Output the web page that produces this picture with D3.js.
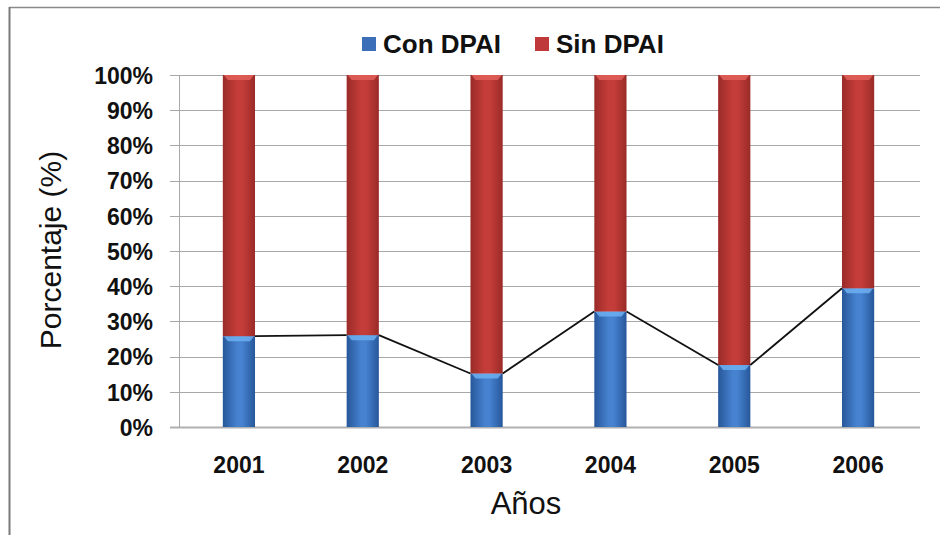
<!DOCTYPE html>
<html><head><meta charset="utf-8">
<script src="https://cdn.jsdelivr.net/npm/d3@7"></script>
<style>body{margin:0;background:#fff}svg{display:block}text{font-family:"Liberation Sans",Arial,sans-serif}</style>
</head><body><svg id="c" width="940" height="535"></svg>
<script>
const years = ["2001","2002","2003","2004","2005","2006"];
const conDPAI = [25.8, 26.1, 15.2, 32.8, 17.6, 39.4];
const sinDPAI = conDPAI.map(v => 100 - v);
const seriesNames = ["Con DPAI","Sin DPAI"];
const yTicks = [0,10,20,30,40,50,60,70,80,90,100];

const svg = d3.select("#c");
const W = 940, H = 535;
const m = {left:177, right:20, top:75, bottom:108};
const x = d3.scaleBand().domain(years).range([m.left, W - m.right]).paddingInner(0.74).paddingOuter(0.37);
const y = d3.scaleLinear().domain([0,100]).range([H - m.bottom, m.top]);

svg.append("rect").attr("x",0).attr("y",0).attr("width",W).attr("height",H).attr("fill","#fff");
svg.append("line").attr("x1",9).attr("x2",W).attr("y1",7.5).attr("y2",7.5).attr("stroke","#8a8a8a").attr("stroke-width",1.5);
svg.append("line").attr("x1",9.5).attr("x2",9.5).attr("y1",7).attr("y2",535).attr("stroke","#7a7a7a").attr("stroke-width",2);

const defs = svg.append("defs");
function grad(id, edge, mid){
  const g = defs.append("linearGradient").attr("id",id).attr("x1","0").attr("x2","1").attr("y1","0").attr("y2","0");
  g.append("stop").attr("offset","0").attr("stop-color",edge);
  g.append("stop").attr("offset","0.45").attr("stop-color",mid);
  g.append("stop").attr("offset","0.6").attr("stop-color",mid);
  g.append("stop").attr("offset","1").attr("stop-color",edge);
}
grad("gBlue","#27579a","#4682d0");
grad("gRed","#9a2b28","#c53d3a");
const colors = {"Con DPAI":{fill:"url(#gBlue)",hi:"#6db0f2",leg:"#3b6fb8"},"Sin DPAI":{fill:"url(#gRed)",hi:"#e2605b",leg:"#c0393a"}};

// grid
svg.append("g").selectAll("line").data(yTicks).join("line")
  .attr("x1",170).attr("x2",W - m.right)
  .attr("y1",d=>Math.round(y(d))+0.5).attr("y2",d=>Math.round(y(d))+0.5)
  .attr("stroke",d=>d===0?"#b0b0b0":"#a8a8a8").attr("stroke-width",d=>d===0?2:1.2);
svg.append("line").attr("x1",179.5).attr("x2",179.5).attr("y1",y(100)).attr("y2",y(0)).attr("stroke","#a8a8a8");

// y axis
const yAxis = d3.axisLeft(y).tickValues(yTicks).tickFormat(d=>d+"%").tickSize(0).tickPadding(0);
const ya = svg.append("g").attr("transform",`translate(153,0)`).call(yAxis);
ya.select(".domain").remove();
ya.selectAll("text").attr("font-size",23).attr("font-weight","bold").attr("fill","#111").attr("dy","0.36em");

// x axis
const xAxis = d3.axisBottom(x).tickSize(0).tickPadding(0);
const xa = svg.append("g").attr("transform",`translate(0,${y(0)+38})`).call(xAxis);
xa.select(".domain").remove();
xa.selectAll("text").attr("font-size",23).attr("font-weight","bold").attr("fill","#111").attr("y",0).attr("dy","0.36em");

// bars
const stackData = years.map((yr,i)=>({year:yr,"Con DPAI":conDPAI[i],"Sin DPAI":sinDPAI[i]}));
const stacked = d3.stack().keys(seriesNames)(stackData);
const bw = x.bandwidth();
stacked.forEach(s=>{
  const g = svg.append("g");
  g.selectAll("rect").data(s).join("rect")
    .attr("x",d=>x(d.data.year)).attr("width",bw)
    .attr("y",d=>y(d[1])).attr("height",d=>y(d[0])-y(d[1]))
    .attr("fill",colors[s.key].fill);
  g.selectAll("path").data(s).join("path")
    .attr("d",d=>{const x0=x(d.data.year),t=y(d[1]),b=5;return `M${x0+1},${t}L${x0+bw-1},${t}L${x0+bw-b},${t+b}L${x0+b},${t+b}Z`;})
    .attr("fill",colors[s.key].hi).attr("opacity",0.85);
});

// series lines
const segs = d3.pairs(stacked[0]);
svg.append("g").selectAll("line").data(segs).join("line")
  .attr("x1",d=>x(d[0].data.year)+bw).attr("y1",d=>y(d[0][1]))
  .attr("x2",d=>x(d[1].data.year)).attr("y2",d=>y(d[1][1]))
  .attr("stroke","#111").attr("stroke-width",1.8);

// legend
const legX = [362, 535];
const lg = svg.append("g");
seriesNames.forEach((n,i)=>{
  lg.append("rect").attr("x",legX[i]).attr("y",37).attr("width",14).attr("height",14).attr("fill",colors[n].leg);
  lg.append("text").attr("x",legX[i]+21).attr("y",44).attr("dy","0.36em").attr("font-size",26).attr("font-weight","bold").attr("fill","#111").text(n);
});

// axis titles
svg.append("text").attr("transform","translate(50,250) rotate(-90)").attr("text-anchor","middle").attr("dy","0.36em")
  .attr("font-size",30).attr("fill","#111").text("Porcentaje (%)");
svg.append("text").attr("x",526).attr("y",503).attr("text-anchor","middle").attr("dy","0.36em")
  .attr("font-size",31).attr("fill","#111").text("Años");
</script></body></html>
